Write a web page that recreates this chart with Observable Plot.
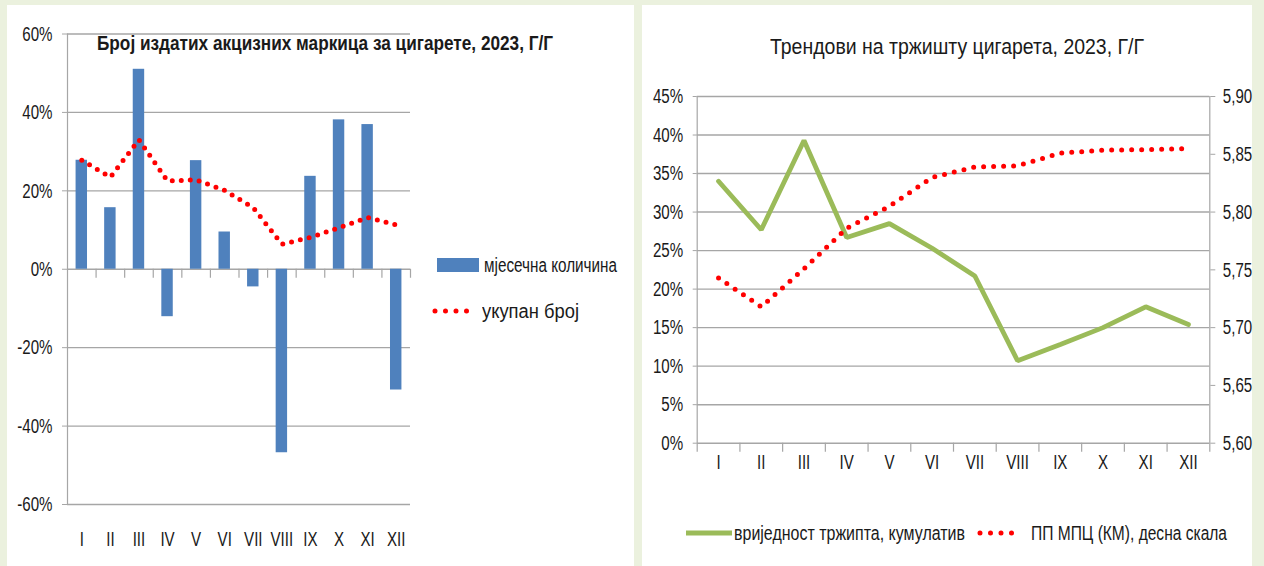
<!DOCTYPE html>
<html><head><meta charset="utf-8">
<script src="https://cdn.jsdelivr.net/npm/d3@7"></script>
<script src="https://cdn.jsdelivr.net/npm/@observablehq/plot@0.6"></script>
<style>
html,body{margin:0;padding:0}
body{background:#ebf1de;width:1264px;height:566px;overflow:hidden;position:relative;
  font-family:"Liberation Sans",Arial,sans-serif;color:#1a1a1a}
.panel{position:absolute;background:#fff;top:5px;height:561px}
.abs{position:absolute;white-space:nowrap}
.chart{position:absolute;left:0;top:0;overflow:visible}
</style></head><body>
<div class="panel" id="p1" style="left:7px;width:627px"></div>
<div class="panel" id="p2" style="left:642px;width:610px"></div>
<script>
// ---- data ----
const months = ["I","II","III","IV","V","VI","VII","VIII","IX","X","XI","XII"];
// left chart: number of excise stamps issued for cigarettes, y/y %
const monthly    = [27.8, 15.7, 51.0, -12.1, 27.7, 9.5, -4.5, -46.8, 23.7, 38.1, 36.9, -30.8];
const cumulative = [27.8, 23.5, 33.0, 22.5, 22.8, 20.1, 15.7, 6.4, 8.1, 10.6, 13.2, 11.3];
const leftTicks  = [-60, -40, -20, 0, 20, 40, 60];
// right chart: cigarette market trends
const marketValue = [34.0, 27.7, 39.3, 26.7, 28.5, 25.3, 21.7, 10.7, 12.8, 15.0, 17.7, 15.4];
const priceMPC    = [5.743, 5.718, 5.751, 5.786, 5.805, 5.830, 5.839, 5.840, 5.851, 5.8535, 5.854, 5.855];
const pctTicks    = [0, 5, 10, 15, 20, 25, 30, 35, 40, 45];
const priceTicks  = [5.60, 5.65, 5.70, 5.75, 5.80, 5.85, 5.90];

const FONT = '"Liberation Sans",Arial,sans-serif';
const GRID = "#a6a6a6";
const SQUEEZE = 0.72;
const idx = d3.range(12);

// horizontally condense every tick label around its own anchor point (narrow-font look)
function squeeze(svg, s) {
  svg.querySelectorAll("text").forEach(t => {
    const b = t.getBBox();
    const anchor = getComputedStyle(t).textAnchor;
    const ax = anchor === "end" ? b.x + b.width : anchor === "middle" ? b.x + b.width / 2 : b.x;
    const tr = t.getAttribute("transform") || "";
    t.setAttribute("transform", `${tr} translate(${ax},0) scale(${s},1) translate(${-ax},0)`);
  });
}

// ---- left chart ----
const t1 = idx.map(i => ({i, monthly: monthly[i], cum: cumulative[i]}));
const yPx1 = 470.5 / 120; // px per percent point
const c1 = Plot.plot({
  width: 627, height: 561,
  marginLeft: 60, marginRight: 224, marginTop: 28.5, marginBottom: 62,
  x: {domain: [0, 12]},
  y: {domain: [-60, 60]},
  style: {fontFamily: FONT, fontSize: "21px", color: "#1a1a1a", background: "transparent", overflow: "visible"},
  marks: [
    Plot.ruleY(leftTicks, {x1: 0, x2: 12, stroke: GRID, strokeWidth: 1.4}),
    Plot.axisY({ticks: leftTicks, tickFormat: d => d + "%", tickSize: 5, tickPadding: 10, stroke: GRID, label: null}),
    Plot.ruleX([0], {y1: -60, y2: 60, stroke: GRID, strokeWidth: 1.2}),
    Plot.ruleX(d3.range(1, 13), {y1: 0, y2: -9 / yPx1, stroke: GRID, strokeWidth: 1.2}),
    Plot.rect(t1, {x1: d => d.i + 0.3, x2: d => d.i + 0.7, y1: 0, y2: "monthly", fill: "#4f81bd"}),
    Plot.line(t1, {x: d => d.i + 0.5, y: "cum", stroke: "#ff0000", strokeWidth: 5,
      strokeDasharray: "0 9", strokeLinecap: "round"}),
    Plot.axisX({ticks: idx.map(i => i + 0.5), tickFormat: v => months[Math.floor(v)], tickSize: 0, tickPadding: 27, label: null})
  ]
});
c1.classList.add("chart");
document.getElementById("p1").appendChild(c1);
squeeze(c1, SQUEEZE);

// ---- right chart ----
const toLeft = p => (p - 5.60) / 0.30 * 45;
const t2 = idx.map(i => ({i, value: marketValue[i], price: toLeft(priceMPC[i])}));
const yPx2 = 346.7 / 45;
const c2 = Plot.plot({
  width: 610, height: 561,
  marginLeft: 54.7, marginRight: 42.7, marginTop: 91, marginBottom: 123.3,
  x: {domain: [0, 12]},
  y: {domain: [0, 45]},
  style: {fontFamily: FONT, fontSize: "21px", color: "#1a1a1a", background: "transparent", overflow: "visible"},
  marks: [
    Plot.ruleY(pctTicks, {x1: 0, x2: 12, stroke: GRID, strokeWidth: 1.4}),
    Plot.axisY({ticks: pctTicks, tickFormat: d => d + "%", tickSize: 4, tickPadding: 10, stroke: GRID, label: null}),
    Plot.axisY({anchor: "right", ticks: priceTicks.map(toLeft),
      tickFormat: v => (5.60 + v / 45 * 0.30).toFixed(2).replace(".", ","),
      tickSize: 5, tickPadding: 8, stroke: GRID, label: null}),
    Plot.ruleX([0, 12], {y1: -9 / yPx2, y2: 45, stroke: GRID, strokeWidth: 1.2}),
    Plot.ruleX(d3.range(1, 12), {y1: 0, y2: -9 / yPx2, stroke: GRID, strokeWidth: 1.2}),
    Plot.line(t2, {x: d => d.i + 0.5, y: "value", stroke: "#9bbb59", strokeWidth: 4.8, strokeLinejoin: "miter"}),
    Plot.line(t2, {x: d => d.i + 0.5, y: "price", stroke: "#ff0000", strokeWidth: 5,
      strokeDasharray: "0 10", strokeLinecap: "round"}),
    Plot.axisX({ticks: idx.map(i => i + 0.5), tickFormat: v => months[Math.floor(v)], tickSize: 0, tickPadding: 11, label: null})
  ]
});
c2.classList.add("chart");
document.getElementById("p2").appendChild(c2);
squeeze(c2, SQUEEZE);

// ---- titles & legends (HTML), each fitted to the width it has in the reference ----
function addText(txt, left, right, centerY, size, weight) {
  const d = document.createElement("div");
  d.className = "abs";
  d.textContent = txt;
  d.style.left = left + "px";
  d.style.top = (centerY - 14) + "px";
  d.style.lineHeight = "28px";
  d.style.fontSize = size + "px";
  d.style.fontWeight = weight;
  document.body.appendChild(d);
  const w = d.getBoundingClientRect().width;
  d.style.transformOrigin = "0 50%";
  d.style.transform = `scaleX(${(right - left) / w})`;
  return d;
}
function addSwatch(svgInner, left, top, w, h) {
  const d = document.createElement("div");
  d.className = "abs";
  d.style.left = left + "px"; d.style.top = top + "px";
  d.innerHTML = `<svg width="${w}" height="${h}" style="display:block">${svgInner}</svg>`;
  document.body.appendChild(d);
}
addText("Број издатих акцизних маркица за цигарете, 2023, Г/Г", 97, 553, 43, 21, "bold");
addText("Трендови на тржишту цигарета, 2023, Г/Г", 770, 1144, 47, 22, "normal");

// left legend
addSwatch(`<rect x="0" y="0" width="42" height="14" fill="#4f81bd"/>`, 437, 258, 42, 14);
addText("мјесечна количина", 484, 617, 265, 20, "normal");
addSwatch(`<line x1="3" y1="6" x2="45" y2="6" stroke="#ff0000" stroke-width="5" stroke-linecap="round" stroke-dasharray="0 10.5"/>`, 432, 305, 50, 12);
addText("укупан број", 482, 579, 311, 20, "normal");

// right legend
addSwatch(`<line x1="0" y1="6" x2="46" y2="6" stroke="#9bbb59" stroke-width="4.8"/>`, 686, 527, 46, 12);
addText("вриједност тржипта, кумулатив", 734, 965, 533, 20, "normal");
addSwatch(`<line x1="3" y1="6" x2="45" y2="6" stroke="#ff0000" stroke-width="5" stroke-linecap="round" stroke-dasharray="0 10.5"/>`, 977, 527, 50, 12);
addText("ПП МПЦ (КМ), десна скала", 1031, 1227, 533, 20, "normal");
</script>
</body></html>
